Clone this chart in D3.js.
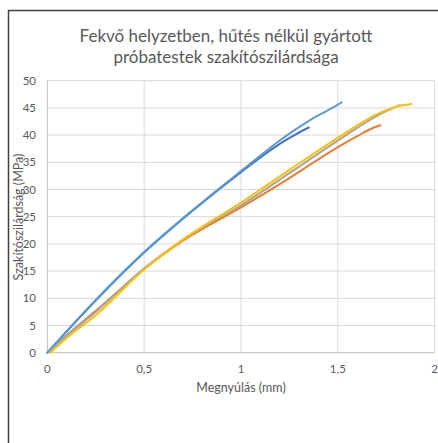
<!DOCTYPE html>
<html><head><meta charset="utf-8">
<script src="https://cdn.jsdelivr.net/npm/d3@7"></script>
<style>body{margin:0;background:#fff;}svg{display:block;}</style>
</head><body>
<svg id="c" width="438" height="443"></svg>
<script>
const titleLines = ["Fekvő helyzetben, hűtés nélkül gyártott", "próbatestek szakítószilárdsága"];
const xLabel = "Megnyúlás (mm)";
const yLabel = "Szakítószilárdság (MPa)";
const xTicks = [0, 0.5, 1, 1.5, 2];
const yTicks = [0, 5, 10, 15, 20, 25, 30, 35, 40, 45, 50];
const seriesNames = ["1", "2", "3", "4", "5"];
const seriesColors = ["#4472C4", "#ED7D31", "#A5A5A5", "#FFC000", "#5B9BD5"];
const s1 = [[0,0],[0.25,9.6],[0.5,18.4],[0.75,26.1],[1.0,33.2],[1.12,36.4],[1.2,38.4],[1.28,40.1],[1.35,41.4]];
const s2 = [[0,0],[0.1,3.2],[0.25,7.7],[0.5,15.4],[0.7,20.6],[1.0,26.7],[1.25,32.1],[1.5,37.8],[1.6,39.8],[1.68,41.3],[1.72,41.8]];
const s3 = [[0,0],[0.1,3.1],[0.25,7.5],[0.5,15.5],[0.7,20.8],[1.0,27.1],[1.25,33.0],[1.5,39.0],[1.7,43.5],[1.82,45.5]];
const s4 = [[0.015,0],[0.1,2.7],[0.25,6.9],[0.5,15.3],[0.7,20.8],[1.0,27.6],[1.25,33.6],[1.5,39.5],[1.7,43.8],[1.8,45.2],[1.88,45.7]];
const s5 = [[0,0],[0.25,9.7],[0.5,18.5],[0.75,26.2],[1.0,33.4],[1.12,36.8],[1.2,39.0],[1.28,41.0],[1.34,42.4],[1.45,44.6],[1.52,46.0]];
const seriesData = [s1, s2, s3, s4, s5];

const svg = d3.select("#c");
const font = "Lato, 'Open Sans', sans-serif";
const x = d3.scaleLinear().domain([0, 2]).range([47.3, 434.7]);
const y = d3.scaleLinear().domain([0, 50]).range([352.7, 80.7]);

// frame
svg.append("path").attr("d", "M8.5,443 L8.5,10.5 L438,10.5").attr("fill","none").attr("stroke","#404040").attr("stroke-width",1.5);

// gridlines
svg.append("g").selectAll("line").data(yTicks).join("line")
  .attr("x1", x(0)).attr("x2", x(2)).attr("y1", d=>y(d)).attr("y2", d=>y(d))
  .attr("stroke", d=> d===0 ? "#bfbfbf" : "#d9d9d9").attr("stroke-width",1);
svg.append("g").selectAll("line").data(xTicks).join("line")
  .attr("y1", y(0)).attr("y2", y(50)).attr("x1", d=>x(d)).attr("x2", d=>x(d))
  .attr("stroke", d=> d===0 ? "#bfbfbf" : "#d9d9d9").attr("stroke-width",1);

// tick labels
svg.append("g").selectAll("text").data(yTicks).join("text")
  .attr("x", 36).attr("y", d=>y(d)).attr("dy","0.35em").attr("text-anchor","end")
  .attr("font-family", font).attr("font-size", 11.5).attr("fill","#595959").text(d=>d);
svg.append("g").selectAll("text").data(xTicks).join("text")
  .attr("x", d=>x(d)).attr("y", 369).attr("dy","0.35em").attr("text-anchor","middle")
  .attr("font-family", font).attr("font-size", 11.5).attr("fill","#595959").text(d=>String(d).replace(".", ","));

// series
const line = d3.line().x(d=>x(d[0])).y(d=>y(d[1])).curve(d3.curveMonotoneX);
svg.append("g").selectAll("path").data(seriesData).join("path")
  .attr("d", d=>line(d)).attr("fill","none").attr("stroke", (d,i)=>seriesColors[i])
  .attr("stroke-width", 2).attr("stroke-linecap","round");

// title
svg.append("g").selectAll("text").data(titleLines).join("text")
  .attr("x", 226).attr("y", (d,i)=> 42 + i*21).attr("text-anchor","middle")
  .attr("font-family", font).attr("font-size", 17).attr("fill","#595959").text(d=>d);

// axis labels
svg.append("text").attr("x", 241).attr("y", 392).attr("text-anchor","middle")
  .attr("font-family", font).attr("font-size", 12.5).attr("fill","#595959").text(xLabel);
svg.append("text").attr("transform","translate(23,217) rotate(-90)").attr("text-anchor","middle")
  .attr("font-family", font).attr("font-size", 12.5).attr("fill","#595959").text(yLabel);
</script>
</body></html>
